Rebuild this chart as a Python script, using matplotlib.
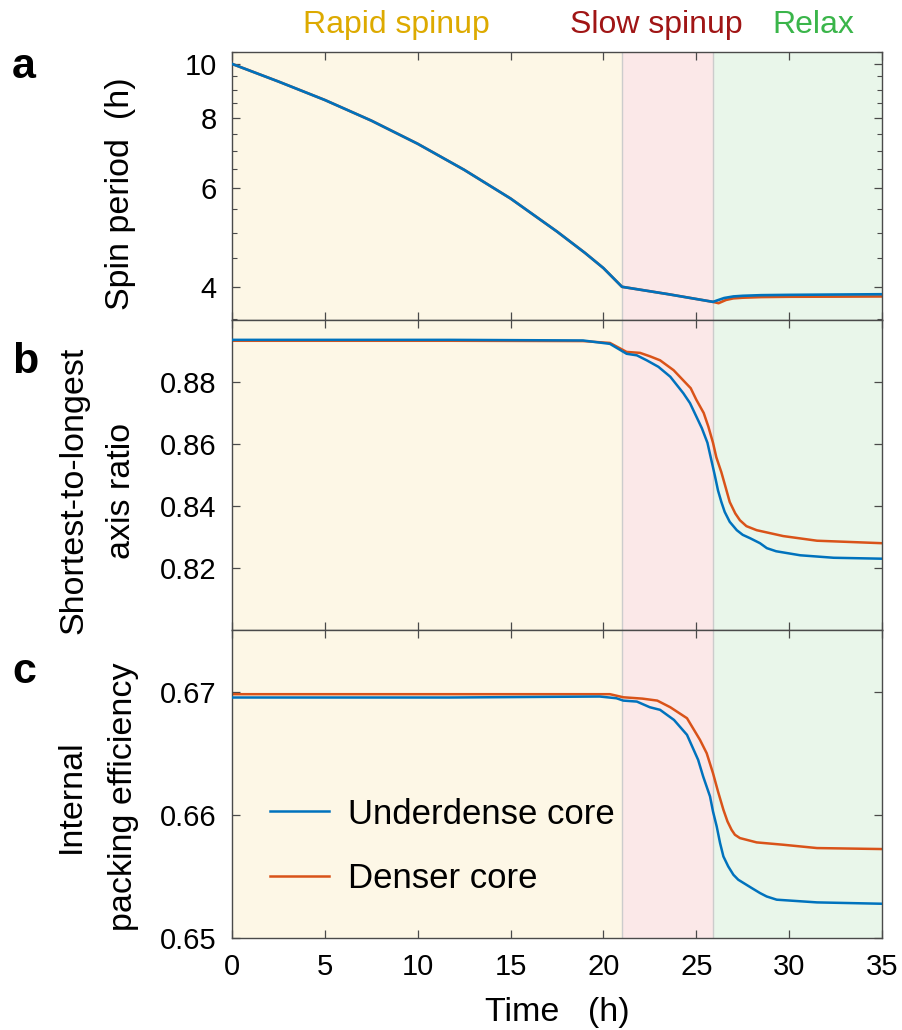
#!/usr/bin/env python3
import numpy as np
import matplotlib
matplotlib.use("Agg")
import matplotlib.pyplot as plt
from matplotlib.ticker import FixedLocator, NullFormatter

plt.rcParams['font.family'] = ['Liberation Sans', 'DejaVu Sans']

# phase boundaries (h)
phase_edges = [0, 21.0, 25.9, 35]
phase_names = ["Rapid spinup", "Slow spinup", "Relax"]

# panel a: spin period (h)
t_spin_blue = [0, 2.5, 5, 7.5, 10, 12.5, 15, 17.5, 19, 20, 21, 23.5, 25.9, 26.1, 26.5, 27.0, 27.5, 28.5, 30, 32.5, 35]
p_spin_blue = [10.0, 9.3, 8.62, 7.92, 7.2, 6.47, 5.75, 5.02, 4.6, 4.32, 4.0, 3.88, 3.76, 3.78, 3.82, 3.845, 3.855, 3.865, 3.87, 3.875, 3.88]
t_spin_red = [0, 2.5, 5, 7.5, 10, 12.5, 15, 17.5, 19, 20, 21, 23.5, 25.9, 26.2, 26.6, 27.0, 27.5, 28.5, 30, 32.5, 35]
p_spin_red = [10.0, 9.3, 8.62, 7.92, 7.2, 6.47, 5.75, 5.02, 4.6, 4.32, 4.0, 3.88, 3.76, 3.74, 3.79, 3.815, 3.825, 3.835, 3.84, 3.842, 3.845]

# panel b: shortest-to-longest axis ratio
t_ratio_blue = [0, 11.7, 18.9, 20.35, 21.25, 21.8, 22.33, 22.96, 23.6, 24.3, 24.66, 25.0, 25.3, 25.6, 25.8, 26.0, 26.17, 26.35, 26.53, 26.8,
                27.18, 27.5, 27.9, 28.43, 28.8, 29.3, 30.6, 32.4, 35]
r_blue = [0.8936, 0.8936, 0.8934, 0.8923, 0.8891, 0.8886, 0.8870, 0.8849, 0.8817, 0.8764, 0.8732, 0.8689, 0.8651, 0.8604, 0.8551, 0.8498,
          0.8450, 0.8413, 0.8381, 0.8349, 0.8322, 0.8307, 0.8296, 0.8280, 0.8264, 0.8254, 0.8241, 0.8233, 0.8230]
t_ratio_red = [0, 11.7, 18.9, 20.35, 21.25, 21.97, 22.5, 23.05, 23.78, 24.7, 25.0, 25.4, 25.65, 25.9, 26.08, 26.35, 26.6, 26.8, 27.1,
               27.35, 27.7, 28.25, 29.68, 31.5, 35]
r_red = [0.8933, 0.8933, 0.8932, 0.8926, 0.8897, 0.8894, 0.8883, 0.8870, 0.8838, 0.8780, 0.8743, 0.8700, 0.8656, 0.8604, 0.8557,
         0.8509, 0.8456, 0.8413, 0.8376, 0.8354, 0.8335, 0.8322, 0.8303, 0.8288, 0.8280]

# panel c: internal packing efficiency
t_pack_blue = [0, 11.7, 19.8, 20.7, 21.07, 21.8, 22.5, 23.05, 23.8, 24.5, 25.1, 25.37, 25.74, 25.9, 26.1, 26.28, 26.46, 26.72, 27.0,
               27.26, 27.55, 27.98, 28.43, 28.79, 29.33, 31.5, 35]
e_blue = [0.66952, 0.66952, 0.66960, 0.66946, 0.66927, 0.66919, 0.66873, 0.66852, 0.66770, 0.66649, 0.66446, 0.66311, 0.66149,
          0.66027, 0.65905, 0.65771, 0.65662, 0.65581, 0.65513, 0.65473, 0.65446, 0.65406, 0.65365, 0.65337, 0.65311, 0.65289, 0.65278]
t_pack_red = [0, 11.7, 20.35, 21.07, 22.1, 22.9, 23.6, 24.5, 25.2, 25.56, 25.9, 26.17, 26.46, 26.68, 26.9, 27.08, 27.35, 28.25,
              29.68, 31.5, 35]
e_red = [0.66979, 0.66979, 0.66979, 0.66954, 0.66943, 0.66927, 0.66873, 0.66784, 0.66608, 0.66500, 0.66338, 0.66189, 0.66041,
         0.65946, 0.65878, 0.65838, 0.65811, 0.65776, 0.65757, 0.65730, 0.65722]

labels = ["Underdense core", "Denser core"]

blue = "#0072BD"
red = "#D95319"
bg_colors = ["#FDF7E6", "#FBE8E8", "#E9F6EA"]
name_colors = ["#DDAA00", "#A01515", "#3AB54A"]
spine_col = "#4a4a4a"


def style_axis(ax):
    ax.set_xlim(0, 35)
    ax.set_xticks(np.arange(0, 36, 5))
    for s in ax.spines.values():
        s.set_color(spine_col)
        s.set_linewidth(1.0)
    ax.tick_params(which='both', direction='in', top=True, right=True,
                   color=spine_col, labelsize=21, pad=11)
    ax.tick_params(which='major', length=6, width=0.9)
    ax.tick_params(which='minor', length=3.5, width=0.8)
    for i in range(3):
        ax.axvspan(phase_edges[i], phase_edges[i + 1], color=bg_colors[i], zorder=0, lw=0)
    for x in phase_edges[1:3]:
        ax.axvline(x, color="#cccccc", lw=1.0, zorder=0.5)


def main():
    fig = plt.figure(figsize=(9.02, 10.30), dpi=100)
    left, width = 232 / 902, 650 / 902
    ax_a = fig.add_axes([left, (1030 - 320) / 1030, width, 268 / 1030])
    ax_b = fig.add_axes([left, (1030 - 630) / 1030, width, 310 / 1030])
    ax_c = fig.add_axes([left, (1030 - 938) / 1030, width, 308 / 1030])

    for ax in (ax_a, ax_b, ax_c):
        style_axis(ax)

    # a
    ax_a.set_yscale('log')
    ax_a.plot(t_spin_red, p_spin_red, color=red, lw=1.9, zorder=2)
    ax_a.plot(t_spin_blue, p_spin_blue, color=blue, lw=1.9, zorder=3)
    ax_a.set_ylim(3.49, 10.5)
    ax_a.yaxis.set_major_locator(FixedLocator([4, 6, 8, 10]))
    ax_a.yaxis.set_minor_locator(FixedLocator(np.arange(3.5, 10.51, 0.5)))
    ax_a.yaxis.set_major_formatter(plt.FuncFormatter(lambda v, p: f"{v:g}"))
    ax_a.yaxis.set_minor_formatter(NullFormatter())
    ax_a.set_ylabel("Spin period  (h)", fontsize=24.5, va='center')
    ax_a.yaxis.set_label_coords(-0.172, 0.47)
    ax_a.tick_params(labelbottom=False)

    # b
    ax_b.plot(t_ratio_red, r_red, color=red, lw=1.8, zorder=2)
    ax_b.plot(t_ratio_blue, r_blue, color=blue, lw=1.8, zorder=3)
    ax_b.set_ylim(0.80, 0.90)
    ax_b.set_yticks([0.82, 0.84, 0.86, 0.88])
    ax_b.set_ylabel("Shortest-to-longest\naxis ratio", fontsize=24.5, va='center',
                    linespacing=1.7)
    ax_b.yaxis.set_label_coords(-0.207, 0.45)
    ax_b.tick_params(labelbottom=False)

    # c
    lb, = ax_c.plot(t_pack_blue, e_blue, color=blue, lw=1.8, zorder=3)
    lr, = ax_c.plot(t_pack_red, e_red, color=red, lw=1.8, zorder=2)
    ax_c.set_ylim(0.65, 0.675)
    ax_c.set_yticks([0.65, 0.66, 0.67])
    ax_c.set_ylabel("Internal\npacking efficiency", fontsize=24.5, va='center',
                    linespacing=1.85)
    ax_c.yaxis.set_label_coords(-0.207, 0.46)
    ax_c.set_xlabel("Time   (h)", fontsize=24.5, labelpad=11)
    ax_c.legend([lb, lr], labels, loc='lower left', bbox_to_anchor=(0.058, 0.14),
                frameon=False, fontsize=25, handlelength=1.7, handletextpad=0.55,
                labelspacing=0.9, borderpad=0, borderaxespad=0)

    # phase names along the top
    for name, col, xc in zip(phase_names, name_colors, [396, 656, 813]):
        fig.text(xc / 902, 1 - 33 / 1030, name, color=col, fontsize=23,
                 ha='center', va='baseline')

    # panel letters
    for letter, yb in zip("abc", [78, 373, 683]):
        fig.text(12 / 902, 1 - yb / 1030, letter, fontsize=31, fontweight='bold',
                 ha='left', va='baseline')

    fig.savefig("out.png", dpi=100)


if __name__ == "__main__":
    main()
